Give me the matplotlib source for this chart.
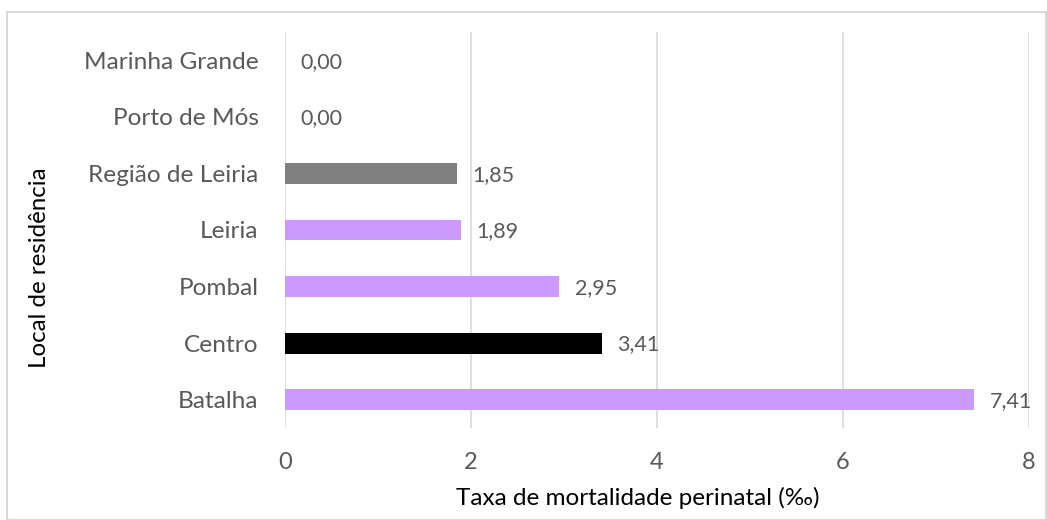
import matplotlib
matplotlib.use("Agg")
import matplotlib.pyplot as plt
from matplotlib.patches import Rectangle

plt.rcParams['font.family'] = ['Lato', 'DejaVu Sans']

categories = ["Batalha", "Centro", "Pombal", "Leiria", "Região de Leiria",
              "Porto de Mós", "Marinha Grande"]
values = [7.41, 3.41, 2.95, 1.89, 1.85, 0.00, 0.00]
bar_colors = ["#CC99FF", "#000000", "#CC99FF", "#CC99FF", "#808080",
              "#CC99FF", "#CC99FF"]
x_ticks = [0, 2, 4, 6, 8]

fig = plt.figure(figsize=(10.47, 5.20), dpi=100)
ax = fig.add_axes([285 / 1047, 1 - 428 / 520, (1029 - 285) / 1047, (428 - 32) / 520])

y = range(len(categories))
ax.barh(y, values, height=0.37, color=bar_colors, zorder=3)

for yi, v in zip(y, values):
    ax.annotate(f"{v:.2f}".replace(".", ","), xy=(v, yi), xytext=(11, -1),
                textcoords="offset points", va="center", ha="left",
                fontsize=15.5, color="#595959")

ax.set_xlim(0, 8)
ax.set_ylim(-0.5, len(categories) - 0.5)
ax.set_xticks(x_ticks)
ax.set_xticklabels([str(t) for t in x_ticks])
ax.set_yticks(list(y))
ax.set_yticklabels(categories)

ax.tick_params(axis='x', length=0, pad=17, labelsize=17, labelcolor="#595959")
ax.tick_params(axis='y', length=0, pad=19, labelsize=17.6, labelcolor="#595959")

ax.grid(axis='x', color="#d9d9d9", linewidth=1.2, zorder=0)
for s in ax.spines.values():
    s.set_visible(False)

ax.set_xlabel("Taxa de mortalidade perinatal (‰)", fontsize=17.5, color="black")
ax.xaxis.set_label_coords((638 - 285) / 744, -(498 - 428) / 396)
ax.xaxis.label.set_verticalalignment("center")
fig.text(40 / 1047, 1 - 268 / 520, "Local de residência", rotation=90,
         ha="center", va="center", fontsize=17.4, color="black")

fig.patches.append(Rectangle((7 / 1047, 0), 1 - 7 / 1047 - 1 / 1047, 1 - 12 / 520,
                             transform=fig.transFigure, fill=False,
                             edgecolor="#d9d9d9", linewidth=1.5))

fig.savefig("out.png", dpi=100)
